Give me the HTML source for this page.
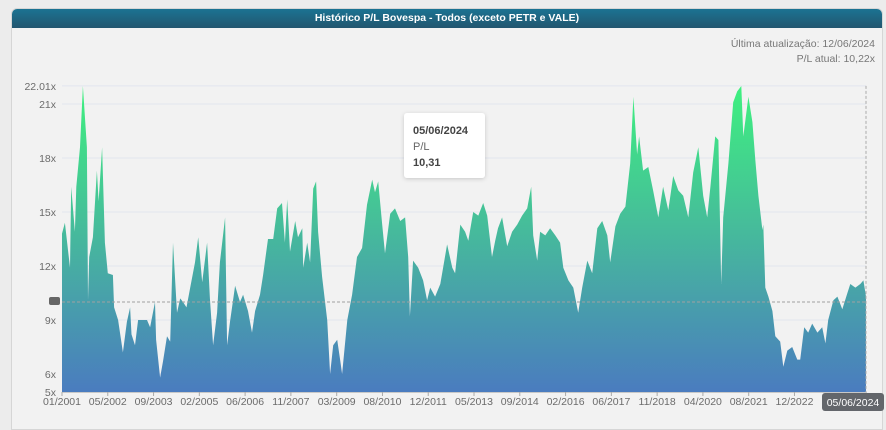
<!DOCTYPE html>
<html><head><meta charset="utf-8">
<style>
html,body{margin:0;padding:0;background:#ececec;width:886px;height:421px;overflow:hidden;font-family:"Liberation Sans",sans-serif}
#panel{position:absolute;left:11px;top:8px;width:870px;height:420px;background:#f2f2f2;border:1px solid #d6d6d6;border-radius:6px 6px 0 0}
#hdr{position:absolute;left:0;top:0;width:870px;height:19px;background:linear-gradient(#1b7392,#22566f);border-radius:5px 5px 0 0;color:#fff;font-size:10.5px;font-weight:bold;text-align:center;line-height:19px}
svg{position:absolute;left:0;top:0}
</style></head><body>
<div id="panel">
<div id="hdr">Histórico P/L Bovespa - Todos (exceto PETR e VALE)</div>
</div>
<svg id="chart" width="886" height="421">
<defs>
<linearGradient id="g" gradientUnits="userSpaceOnUse" x1="0" y1="87" x2="0" y2="392">
<stop offset="0" stop-color="#3ef07f"/><stop offset="0.45" stop-color="#46bd9a"/><stop offset="1" stop-color="#4a7cbf"/>
</linearGradient>
<filter id="sh" x="-20%" y="-20%" width="140%" height="140%"><feDropShadow dx="0" dy="1" stdDeviation="2" flood-opacity="0.18"/></filter>
</defs>
</svg>
<script>
const yTicks=[5,6,9,12,15,18,21,22.01];
const yTickLabels=["5x","6x","9x","12x","15x","18x","21x","22.01x"];
const xTickMonths=[0,16,32,48,64,80,96,112,128,144,160,176,192,208,224,240,256];
const xTickLabels=["01/2001","05/2002","09/2003","02/2005","06/2006","11/2007","03/2009","08/2010","12/2011","05/2013","09/2014","02/2016","06/2017","11/2018","04/2020","08/2021","12/2022"];
const months=[0,1,2.8,3.2,4.5,5,6.3,7.3,8.7,9.1,9.5,10.8,12.2,12.8,14,15,16,17.8,18.2,19.6,21.3,22.7,23.8,24.3,25.5,26.6,28,29.7,30.8,32.5,32.9,34.3,35.3,36.7,37.8,38.8,40.2,41.3,42.3,43.5,44.8,46.5,47.6,49,50.7,51.7,52.8,54.2,55.2,57,57.7,58.7,60.5,62.2,63.3,65,66.4,67.5,69.2,70.3,72,73.8,75.2,76.9,77.9,78.7,79.7,81.5,82.5,84,84.3,85.7,86.7,87.8,88.8,89.5,90.9,92.7,93.7,94.8,96.2,97.2,97.9,99.7,101.4,103.1,104.9,106.6,108.4,109.4,110.5,111.9,112.9,114.7,116.4,118.2,119.9,121,121.6,122.7,124.5,126.2,127.6,128.7,130.4,132.2,133.2,134.6,136.4,137.4,139.2,140.9,142,143.7,145.5,147.2,148.6,150.3,151.4,152.4,153.8,155.6,157.3,159.1,160.8,162.6,164,164.7,166.1,167.1,168.9,170.6,172.4,174.1,175.2,177,178.7,180.4,181.8,183.6,185.3,187.1,188.8,190.6,191.6,193.4,195.1,196.9,198.6,199.7,201,201.7,203.1,204.9,206.6,208.4,210.1,211.9,213.6,215.4,217.1,218.9,220.6,222.4,224.1,225.5,226.6,228.3,229.4,230.4,231.1,232.9,234.6,236,237.4,238.1,239.9,241.3,242.3,243.4,244.8,245.1,245.8,246.9,248.3,249.3,251,252.1,253.5,255.2,257,258,259.4,260.8,262.2,264,265.7,266.8,267.8,269.6,271,272.7,274.5,275.5,277.3,279,280.1,281];
const values=[13.8,14.4,11.9,16.4,13.9,16.4,18.6,22,18.6,10.1,12.5,13.6,17.3,15.6,18.6,13.3,11.6,11.5,9.7,9.0,7.2,8.9,9.7,8.2,7.6,9.0,9.0,9.0,8.6,10.0,7.9,5.8,6.7,8.1,7.8,13.3,9.4,10.2,10.0,9.7,10.8,12.2,13.6,11.1,13.3,10.2,7.6,9.4,12.2,14.7,7.6,8.9,10.9,10.0,10.4,9.5,8.3,9.5,10.4,11.5,13.5,13.5,15.2,15.5,13.3,15.7,12.8,14.5,13.6,14.1,11.9,13.3,12.2,16.3,16.7,13.9,11.4,9.0,6.0,7.6,7.9,6.8,6.0,9.0,10.4,12.5,13.0,15.4,16.8,16.1,16.7,14.3,12.7,14.9,15.2,14.5,14.7,12.5,9.2,12.3,11.9,11.2,10.1,10.8,10.3,11.0,11.9,13.2,11.9,11.6,14.3,13.9,13.4,15.0,14.8,15.5,14.8,12.5,13.4,14.1,14.7,13.1,13.9,14.3,14.8,15.2,16.4,13.7,12.3,13.9,13.7,14.1,13.7,13.3,11.9,11.2,10.8,9.4,10.8,12.3,11.6,14.1,14.5,13.7,12.2,14.2,14.9,15.3,17.7,21.4,18.2,19.2,17.3,17.5,16.2,14.7,16.4,15.1,17.0,16.2,15.9,14.7,17.2,18.6,15.9,14.7,16.4,19.2,19.0,11.0,14.7,17.7,21.1,21.7,22.0,19.2,21.4,20.0,17.9,15.9,14.0,14.3,10.8,10.3,9.5,8.1,7.8,6.4,7.3,7.5,6.8,6.8,8.6,8.3,8.8,8.3,8.6,7.7,9.0,10.1,10.3,9.6,10.5,11.0,10.8,11.0,11.2,10.3];
const refValue=10.0;
const tooltipDate="05/06/2024", tooltipLabel="P/L", tooltipValue="10,31";

const NS="http://www.w3.org/2000/svg";
const svg=document.getElementById('chart');
const X0=62,X1=866,MMAX=281,Y5=392,PX=18;
const xs=m=>X0+(m/MMAX)*(X1-X0);
const ys=v=>Y5-(v-5)*PX;
function mk(t,a,p){const e=document.createElementNS(NS,t);for(const k in a)e.setAttribute(k,a[k]);(p||svg).appendChild(e);return e;}

yTicks.forEach((v,i)=>{
  const l=mk('line',{x1:X0,x2:X1,y1:ys(v),y2:ys(v),stroke:'#e1e5ef','stroke-width':1});
  
  
  const t=mk('text',{x:56,y:ys(v)+4,'text-anchor':'end','font-size':'10.5',fill:'#6b6b6b'});
  t.textContent=yTickLabels[i];
  
  
});

let d='M'+xs(months[0])+','+ys(5);
months.forEach((m,i)=>{d+='L'+xs(m).toFixed(1)+','+ys(values[i]).toFixed(1);});
d+='L'+xs(months[months.length-1])+','+ys(5)+'Z';
const area=mk('path',{d:d,fill:'url(#g)'});



const ref=mk('line',{x1:X0,x2:X1,y1:ys(refValue),y2:ys(refValue),stroke:'#a0a0a0','stroke-dasharray':'3,2','stroke-width':1});


const mark=mk('rect',{x:49,y:ys(refValue)-5,width:11,height:8,rx:2,fill:'#666'});



const cross=mk('line',{x1:X1,x2:X1,y1:ys(22.01),y2:Y5,stroke:'#aaa','stroke-dasharray':'3,2'});



const ax=mk('line',{x1:X0,x2:X1+1,y1:Y5+0.5,y2:Y5+0.5,stroke:'#c8c8c8'});


xTickMonths.forEach((m,i)=>{
  const tk=mk('line',{x1:xs(m),x2:xs(m),y1:Y5,y2:Y5+4,stroke:'#aaa'});
  
  
  const t=mk('text',{x:xs(m),y:405,'text-anchor':'middle','font-size':'10.5',fill:'#6b6b6b'});
  t.textContent=xTickLabels[i];
  
  
});

const xb=mk('rect',{x:822,y:393,width:62,height:18,rx:3,fill:'#63666b'});


const xbt=mk('text',{x:853,y:406,'text-anchor':'middle','font-size':'10.5',fill:'#fff'});
xbt.textContent=tooltipDate;



const tg=mk('g',{});


mk('rect',{x:404,y:113,width:81,height:65,rx:3,fill:'#fff',filter:'url(#sh)'},tg);
const t1=mk('text',{x:413,y:134,'font-size':'11','font-weight':'bold',fill:'#444'},tg);t1.textContent=tooltipDate;


const t2=mk('text',{x:413,y:150,'font-size':'11',fill:'#666'},tg);t2.textContent=tooltipLabel;


const t3=mk('text',{x:413,y:166,'font-size':'11','font-weight':'bold',fill:'#444'},tg);t3.textContent=tooltipValue;



const u1=mk('text',{x:875,y:47,'text-anchor':'end','font-size':'10.5',fill:'#777'});
u1.textContent='Última atualização: 12/06/2024';


const u2=mk('text',{x:875,y:62,'text-anchor':'end','font-size':'10.5',fill:'#777'});
u2.textContent='P/L atual: 10,22x';


</script>
</body></html>
